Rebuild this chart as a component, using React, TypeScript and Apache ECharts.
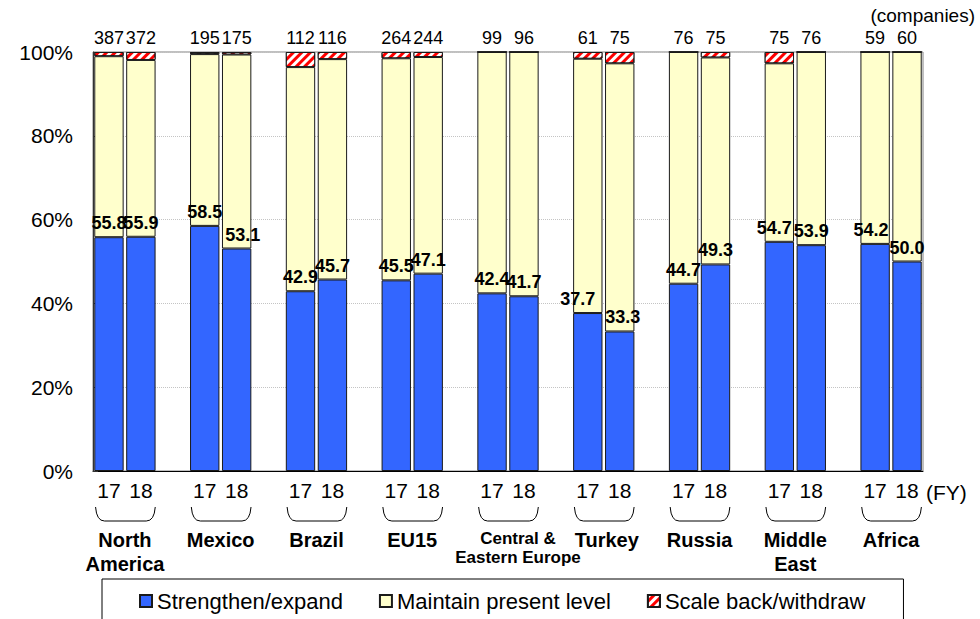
import React, { useEffect, useRef } from 'react';
import * as echarts from 'echarts';

// Regions and fiscal years shown on the category axis
const regions = [
  'North\nAmerica',
  'Mexico',
  'Brazil',
  'EU15',
  'Central &\nEastern Europe',
  'Turkey',
  'Russia',
  'Middle\nEast',
  'Africa',
];
const fiscalYears = ['17', '18'];

// Share of companies (%) planning to strengthen/expand
const strengthenFY17 = [55.8, 58.5, 42.9, 45.5, 42.4, 37.7, 44.7, 54.7, 54.2];
const strengthenFY18 = [55.9, 53.1, 45.7, 47.1, 41.7, 33.3, 49.3, 53.9, 50.0];

// Share of companies (%) planning to scale back/withdraw
const scaleBackFY17 = [1.0, 0.5, 3.6, 1.5, 0, 1.6, 0, 2.7, 0];
const scaleBackFY18 = [1.9, 0.6, 1.7, 1.2, 0, 2.7, 1.3, 0, 0];

// Number of responding companies
const companiesFY17 = [387, 195, 112, 264, 99, 61, 76, 75, 59];
const companiesFY18 = [372, 175, 116, 244, 96, 75, 75, 76, 60];

const yTicks = [0, 20, 40, 60, 80, 100];

const FONT = 'Arial, "Liberation Sans", Helvetica, sans-serif';
const GRID = { left: 93, right: 57, top: 52, bottom: 148 };

// Small horizontal nudges for value labels that would otherwise collide
const valueLabelNudge: Record<string, number> = {
  '1-18': 6,
  '5-17': -10,
  '5-18': 3,
  '7-17': -5,
  '8-17': -4,
};
const regionNameNudge: Record<number, number> = { 4: 10, 5: 3 };

type Slot = { key: string; year: string | null; region: number; yi: number };

const slots: Slot[] = [];
regions.forEach((_, r) => {
  fiscalYears.forEach((y, yi) => slots.push({ key: `${r}-${y}`, year: y, region: r, yi }));
  if (r < regions.length - 1) slots.push({ key: `gap-${r}`, year: null, region: r, yi: -1 });
});

const strengthen = [strengthenFY17, strengthenFY18];
const scaleBack = [scaleBackFY17, scaleBackFY18];
const companies = [companiesFY17, companiesFY18];

const pick = (arrs: number[][], s: Slot): number | string =>
  s.year ? arrs[s.yi][s.region] : '-';

export default function App() {
  const ref = useRef<HTMLDivElement>(null);

  useEffect(() => {
    if (!ref.current) return;
    const chart = echarts.init(ref.current, null, { renderer: 'svg' });

    const blueData = slots.map((s) => {
      if (!s.year) return '-';
      const v = strengthen[s.yi][s.region];
      const dx = valueLabelNudge[s.key] || 0;
      return { value: v, label: { offset: [dx, 0] } };
    });
    const maintainData = slots.map((s) =>
      s.year
        ? +(100 - strengthen[s.yi][s.region] - scaleBack[s.yi][s.region]).toFixed(1)
        : '-'
    );
    const redData = slots.map((s) => pick(scaleBack, s));

    const barBorder = { borderColor: '#1a1a1a', borderWidth: 1 };

    chart.setOption({
      animation: false,
      textStyle: { fontFamily: FONT },
      grid: {
        ...GRID,
        show: true,
        borderColor: '#808080',
        borderWidth: 1,
        backgroundColor: 'transparent',
      },
      legend: {
        data: ['Strengthen/expand', 'Maintain present level', 'Scale back/withdraw'],
        left: 102,
        top: 579,
        padding: [11, 38, 40, 37],
        itemGap: 36,
        itemWidth: 12,
        itemHeight: 12,
        icon: 'rect',
        borderColor: '#000',
        borderWidth: 1,
        textStyle: { fontSize: 22, color: '#000', fontFamily: FONT },
      },
      xAxis: {
        type: 'category',
        data: slots.map((s) => s.key),
        axisLine: { lineStyle: { color: '#000', width: 1 } },
        axisTick: { inside: true, length: 6, lineStyle: { color: '#888' } },
        axisLabel: {
          interval: 0,
          margin: 9,
          fontSize: 21,
          color: '#000',
          fontFamily: FONT,
          formatter: (k: string) => {
            const s = slots.find((x) => x.key === k);
            return s && s.year ? s.year : '';
          },
        },
      },
      yAxis: {
        type: 'value',
        min: yTicks[0],
        max: yTicks[yTicks.length - 1],
        interval: 20,
        axisLine: { show: true, lineStyle: { color: '#333', width: 1 } },
        axisTick: { show: true, inside: true, length: 5, lineStyle: { color: '#333' } },
        axisLabel: {
          formatter: '{value}%',
          fontSize: 21,
          color: '#000',
          margin: 20,
          fontFamily: FONT,
        },
        splitLine: { lineStyle: { color: '#c4c4c4', type: 'dotted' } },
      },
      series: [
        {
          name: 'Strengthen/expand',
          type: 'bar',
          stack: 'share',
          barCategoryGap: '8%',
          data: blueData,
          itemStyle: { color: '#3366FF', ...barBorder },
          label: {
            show: true,
            position: 'top',
            distance: 5,
            fontSize: 18,
            fontWeight: 'bold',
            color: '#000',
            fontFamily: FONT,
            formatter: (p: any) => Number(p.value).toFixed(1),
          },
        },
        {
          name: 'Maintain present level',
          type: 'bar',
          stack: 'share',
          barCategoryGap: '8%',
          data: maintainData,
          itemStyle: { color: '#FFFFCC', ...barBorder },
        },
        {
          name: 'Scale back/withdraw',
          type: 'bar',
          stack: 'share',
          barCategoryGap: '8%',
          data: redData,
          itemStyle: {
            color: '#FF0000',
            ...barBorder,
            decal: {
              symbol: 'rect',
              symbolSize: 1,
              color: '#ffffff',
              dashArrayX: [1, 0],
              dashArrayY: [3, 3],
              rotation: -Math.PI / 4,
            },
          },
        },
      ],
    });

    // Company counts, braces and region names, placed with the axis scales
    const xAt = (key: string) => chart.convertToPixel({ xAxisIndex: 0 }, key) as number;
    const yAt = (v: number) => chart.convertToPixel({ yAxisIndex: 0 }, v) as number;
    const slotW = xAt(slots[1].key) - xAt(slots[0].key);
    const graphics: any[] = [];
    const line = { stroke: '#000', lineWidth: 1, fill: 'none' };

    const yTop = yAt(yTicks[yTicks.length - 1]);
    slots.forEach((s) => {
      if (!s.year) return;
      graphics.push({
        type: 'text',
        x: xAt(s.key),
        y: yTop - 14,
        style: {
          text: String(companies[s.yi][s.region]),
          fill: '#000',
          font: `18px ${FONT}`,
          align: 'center',
          verticalAlign: 'middle',
        },
      });
    });

    regions.forEach((name, r) => {
      const c17 = xAt(`${r}-17`);
      const c18 = xAt(`${r}-18`);
      const x0 = c17 - 0.42 * slotW;
      const x1 = c18 + 0.45 * slotW;
      const top = 507;
      const bot = 521;
      graphics.push(
        { type: 'bezierCurve', shape: { x1: x0, y1: top, x2: x0 + 9, y2: bot, cpx1: x0 + 1, cpy1: bot }, style: line },
        { type: 'line', shape: { x1: x0 + 9, y1: bot, x2: x1 - 9, y2: bot }, style: line },
        { type: 'bezierCurve', shape: { x1: x1 - 9, y1: bot, x2: x1, y2: top, cpx1: x1 - 1, cpy1: bot }, style: line }
      );
      const small = name.startsWith('Central');
      graphics.push({
        type: 'text',
        x: (c17 + c18) / 2 + (regionNameNudge[r] || 0),
        y: small ? 529 : 528,
        style: {
          text: name,
          fill: '#000',
          font: `bold ${small ? 17 : 20}px ${FONT}`,
          align: 'center',
          verticalAlign: 'top',
          lineHeight: small ? 19 : 24,
        },
      });
    });
    const w = chart.getWidth();
    graphics.push(
      {
        type: 'text',
        x: w - GRID.right + 3,
        y: 492,
        style: { text: '(FY)', fill: '#000', font: `21px ${FONT}`, align: 'left', verticalAlign: 'middle' },
      },
      {
        type: 'text',
        x: w - 5,
        y: 15,
        style: { text: '(companies)', fill: '#000', font: `19px ${FONT}`, align: 'right', verticalAlign: 'middle' },
      }
    );
    chart.setOption({ graphic: graphics });

    return () => chart.dispose();
  }, []);

  return (
    <div
      ref={ref}
      style={{ position: 'fixed', left: 0, top: 0, width: 980, height: 619, background: '#fff' }}
    />
  );
}
